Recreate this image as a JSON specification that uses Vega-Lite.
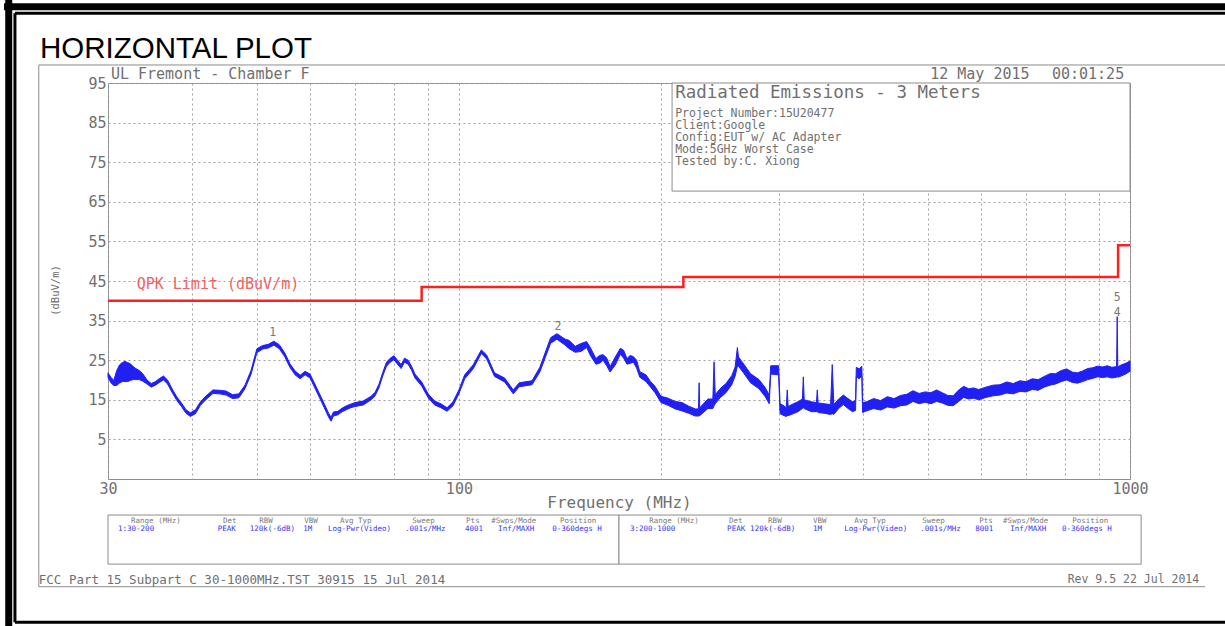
{
  "$schema": "https://vega.github.io/schema/vega-lite/v6.json",
  "width": 1022,
  "height": 396,
  "autosize": {"type": "none"},
  "padding": {"left": 108, "top": 83, "right": 95, "bottom": 147},
  "background": "white",
  "config": {"view": {"stroke": "#8c8c8c", "strokeWidth": 1}, "font": "DejaVu Sans Mono"},
  "encoding": {
    "x": {"field": "f", "type": "quantitative", "scale": {"type": "log", "domain": [30, 1000], "nice": false},
      "axis": {"values": [30, 40, 50, 60, 70, 80, 90, 100, 200, 300, 400, 500, 600, 700, 800, 900, 1000],
        "labelExpr": "(datum.value == 30 || datum.value == 100 || datum.value == 1000) ? format(datum.value, 'd') : ''",
        "labelFlush": false, "ticks": false, "domain": false, "grid": true, "gridDash": [2, 3], "gridColor": "#a0a0a0",
        "labelFont": "DejaVu Sans Mono", "labelFontSize": 15, "labelColor": "#707070", "labelPadding": 2,
        "title": "Frequency (MHz)", "titleFont": "DejaVu Sans Mono", "titleFontSize": 16, "titleFontWeight": "normal", "titleColor": "#707070", "titleY": 23, "titleBaseline": "middle"}},
    "y": {"field": "v", "type": "quantitative", "scale": {"domain": [-5, 95], "nice": false, "zero": false},
      "axis": {"values": [5, 15, 25, 35, 45, 55, 65, 75, 85, 95], "ticks": false, "domain": false, "grid": true, "gridDash": [2, 3], "gridColor": "#a0a0a0",
        "labelFont": "DejaVu Sans Mono", "labelFontSize": 15, "labelColor": "#707070", "labelPadding": 2,
        "title": "(dBuV/m)", "titleFont": "DejaVu Sans Mono", "titleFontSize": 10.5, "titleFontWeight": "normal", "titleColor": "#707070", "titleX": -53, "titleY": 207, "titleAlign": "center", "titleBaseline": "middle"}}
  },
  "layer": [
    {
      "data": {"values": [
        {"f": 21.0, "f2": 1500, "v": 114.27, "v2": 114.27},
        {"f": 21.34, "f2": 21.34, "v": 116, "v2": -50}
      ]},
      "mark": {"type": "rule", "color": "black", "strokeWidth": 7},
      "encoding": {"x2": {"field": "f2"}, "y2": {"field": "v2"}}
    },
    {
      "data": {"values": [
        {"f": 21.8, "f2": 1500, "v": 112.6, "v2": 112.6},
        {"f": 21.8, "f2": 21.8, "v": 112.6, "v2": -41.2},
        {"f": 21.8, "f2": 1500, "v": -41.2, "v2": -41.2}
      ]},
      "mark": {"type": "rule", "color": "black", "strokeWidth": 3},
      "encoding": {"x2": {"field": "f2"}, "y2": {"field": "v2"}}
    },
    {
      "data": {"values": [
        {"f": 23.66, "f2": 1500, "v": 99.55, "v2": 99.55},
        {"f": 23.66, "f2": 23.66, "v": 99.55, "v2": -32.2},
        {"f": 23.66, "f2": 1294, "v": -32.2, "v2": -32.2}
      ]},
      "mark": {"type": "rule", "color": "#8c8c8c", "strokeWidth": 1},
      "encoding": {"x2": {"field": "f2"}, "y2": {"field": "v2"}}
    },
    {
      "data": {"values": [
        {"f": 207.8, "f2": 1000, "v": 95, "v2": 67.7},
        {"f": 30, "f2": 173.2, "v": -14.1, "v2": -26.5},
        {"f": 173.2, "f2": 1039, "v": -14.1, "v2": -26.5}
      ]},
      "mark": {"type": "rect", "fill": "white", "stroke": "#8c8c8c", "strokeWidth": 1},
      "encoding": {"x2": {"field": "f2"}, "y2": {"field": "v2"}}
    },
    {
      "data": {"values": [
        {"f": 30, "v": 40}, {"f": 88, "v": 43.5}, {"f": 216, "v": 46}, {"f": 960, "v": 54}, {"f": 1000, "v": 54}
      ]},
      "mark": {"type": "line", "interpolate": "step-after", "color": "#ff1f1f", "strokeWidth": 2.5}
    },
    {
      "data": {"values": [
        {"f":30,"v":20.7,"v2":21.8},{"f":30.3,"v":19.3,"v2":20.7},{"f":30.6,"v":18.6,"v2":19.9},{"f":30.9,"v":18.6,"v2":22.3},
        {"f":31.2,"v":19.2,"v2":23.8},{"f":31.5,"v":19.6,"v2":24.4},{"f":31.8,"v":19.6,"v2":24.7},{"f":32.1,"v":19.6,"v2":24.4},
        {"f":32.4,"v":19.9,"v2":24.1},{"f":32.7,"v":20.1,"v2":23.4},{"f":33,"v":20.1,"v2":22.9},{"f":33.4,"v":20.1,"v2":22.4},
        {"f":33.8,"v":19.7,"v2":21.6},{"f":34.3,"v":19,"v2":20},{"f":34.8,"v":18.2,"v2":19.1},{"f":35.3,"v":18.7,"v2":19.6},
        {"f":35.8,"v":19.4,"v2":20.4},{"f":36.3,"v":20,"v2":21},{"f":36.8,"v":19,"v2":20},{"f":37.4,"v":16.8,"v2":17.7},
        {"f":38,"v":14.8,"v2":15.7},{"f":38.6,"v":13.3,"v2":14.2},{"f":39.2,"v":11.6,"v2":12.5},{"f":39.8,"v":10.8,"v2":11.7},
        {"f":40.5,"v":11.5,"v2":12.5},{"f":41.2,"v":13.6,"v2":14.5},{"f":42,"v":15.1,"v2":16},{"f":43,"v":16.6,"v2":17.5},
        {"f":44,"v":16.5,"v2":17.4},{"f":45,"v":16.2,"v2":17.2},{"f":46,"v":15.3,"v2":16.3},{"f":47,"v":15.5,"v2":16.5},
        {"f":48,"v":17.8,"v2":18.7},{"f":49,"v":21.4,"v2":22.4},{"f":50,"v":26.9,"v2":27.9},{"f":51,"v":27.8,"v2":28.7},
        {"f":52,"v":28.1,"v2":29},{"f":53,"v":28.8,"v2":29.8},{"f":54,"v":27.9,"v2":28.9},{"f":55,"v":25.9,"v2":26.9},
        {"f":56,"v":23.2,"v2":24.1},{"f":57,"v":21.3,"v2":22.3},{"f":58,"v":20.3,"v2":21.2},{"f":59,"v":21.3,"v2":22.2},
        {"f":60,"v":20.5,"v2":21.5},{"f":61,"v":18,"v2":19},{"f":62,"v":15.5,"v2":16.5},{"f":63,"v":13,"v2":14},
        {"f":64,"v":10.5,"v2":11.5},{"f":64.5,"v":9.6,"v2":10.6},{"f":65,"v":10.9,"v2":11.9},{"f":66,"v":11.2,"v2":12.1},
        {"f":67,"v":12,"v2":12.9},{"f":68,"v":12.5,"v2":13.5},{"f":69,"v":13,"v2":13.9},{"f":70,"v":13.3,"v2":14.3},
        {"f":72,"v":13.7,"v2":14.7},{"f":74,"v":15,"v2":15.9},{"f":75,"v":16,"v2":16.9},{"f":76,"v":18,"v2":18.9},
        {"f":77,"v":21,"v2":21.9},{"f":78,"v":23.5,"v2":24.5},{"f":79,"v":24.5,"v2":25.5},{"f":80,"v":25.1,"v2":26.1},
        {"f":81,"v":24,"v2":25},{"f":82,"v":22.9,"v2":23.9},{"f":83,"v":24.5,"v2":25.5},{"f":84,"v":24,"v2":25},
        {"f":85,"v":22.5,"v2":23.5},{"f":86,"v":20.5,"v2":21.5},{"f":88,"v":18.5,"v2":19.5},{"f":90,"v":15.5,"v2":16.5},
        {"f":92,"v":13.7,"v2":14.7},{"f":94,"v":13,"v2":14},{"f":96,"v":12.1,"v2":13},{"f":98,"v":13.5,"v2":14.5},
        {"f":100,"v":16.5,"v2":17.5},{"f":102,"v":20.3,"v2":21.3},{"f":105,"v":22.8,"v2":23.8},{"f":108,"v":26.7,"v2":27.6},
        {"f":110,"v":25.3,"v2":26.3},{"f":113,"v":20.9,"v2":21.8},{"f":117,"v":19.5,"v2":20.5},{"f":120.5,"v":16.5,"v2":17.5},
        {"f":123,"v":18.3,"v2":19.3},{"f":128.5,"v":18.8,"v2":19.8},{"f":132,"v":22,"v2":23.2},{"f":137,"v":29.3,"v2":30.7},
        {"f":140,"v":30.3,"v2":31.7},{"f":144,"v":28.8,"v2":30.3},{"f":146,"v":27.9,"v2":30},{"f":149,"v":27,"v2":28.5},
        {"f":152,"v":27.2,"v2":29.2},{"f":155,"v":28.2,"v2":29.7},{"f":157,"v":26.2,"v2":28.2},{"f":160,"v":24,"v2":25.4},
        {"f":162,"v":24.2,"v2":26.2},{"f":164,"v":25,"v2":26.4},{"f":166,"v":23.6,"v2":25.6},{"f":168,"v":22,"v2":23.4},
        {"f":171,"v":23.8,"v2":25.8},{"f":174,"v":26.5,"v2":28},{"f":176,"v":25.5,"v2":27.5},{"f":178,"v":24,"v2":25.4},
        {"f":180,"v":24.2,"v2":26.2},{"f":182,"v":24.5,"v2":25.9},{"f":184,"v":23,"v2":25},{"f":186,"v":20.7,"v2":22.1},
        {"f":190,"v":19.6,"v2":21.3},{"f":193,"v":18.2,"v2":19.6},{"f":196,"v":16.8,"v2":18.4},{"f":200,"v":14.3,"v2":15.9},
        {"f":205,"v":13.6,"v2":15.4},{"f":210,"v":12.7,"v2":14.6},{"f":215,"v":12.2,"v2":14.3},
        {"f":220,"v":11.6,"v2":13.4},{"f":225,"v":10.9,"v2":12.7},{"f":227.5,"v":10.9,"v2":12.7},{"f":228,"v":11,"v2":19.3},
        {"f":228.5,"v":11,"v2":13},{"f":235,"v":12.8,"v2":15.2},{"f":239,"v":12.8,"v2":15.2},{"f":240,"v":13.5,"v2":24.6},
        {"f":241,"v":14,"v2":16.3},{"f":245,"v":15.5,"v2":17.8},{"f":250,"v":16.8,"v2":19.1},{"f":255,"v":18.8,"v2":21.1},
        {"f":258,"v":21,"v2":23.3},{"f":260,"v":23.5,"v2":28.2},{"f":261,"v":23.5,"v2":25.8},{"f":265,"v":22,"v2":24.3},
        {"f":272,"v":19.3,"v2":21.6},{"f":280,"v":17.8,"v2":20.1},{"f":286,"v":15.8,"v2":18.1},{"f":290,"v":14,"v2":16.2},
        {"f":291.5,"v":21.5,"v2":23.6},{"f":299.5,"v":21.3,"v2":23.6},{"f":301,"v":11.5,"v2":14},{"f":305,"v":11,"v2":13.5},
        {"f":307.5,"v":10.8,"v2":13},{"f":308.5,"v":11,"v2":17.5},{"f":309.5,"v":11,"v2":13.3},{"f":315,"v":11.5,"v2":14},
        {"f":320,"v":12,"v2":14.5},{"f":325,"v":12.8,"v2":15.2},{"f":326,"v":13,"v2":20.8},{"f":327,"v":12.8,"v2":15},
        {"f":335,"v":12,"v2":14.5},{"f":341,"v":12,"v2":14.3},{"f":342,"v":12,"v2":17.5},{"f":343,"v":11.8,"v2":14.2},
        {"f":350,"v":11.6,"v2":14},{"f":358,"v":11.3,"v2":13.8},{"f":360,"v":11.5,"v2":23.9},{"f":362,"v":11.3,"v2":13.8},
        {"f":368,"v":12.8,"v2":15.2},{"f":374,"v":13.8,"v2":16.2},{"f":380,"v":12.8,"v2":15.3},{"f":386,"v":12,"v2":14.5},
        {"f":390,"v":12.3,"v2":14.8},{"f":391,"v":20.8,"v2":23.2},{"f":395,"v":20.3,"v2":22.8},{"f":398.5,"v":21,"v2":23.5},
        {"f":399.5,"v":11.8,"v2":14.3},{"f":405,"v":12.2,"v2":14.5},{"f":415,"v":12.8,"v2":15.3},{"f":425,"v":12.4,"v2":14.8},
        {"f":435,"v":13.2,"v2":15.8},{"f":445,"v":12.9,"v2":15.3},{"f":455,"v":13.5,"v2":16.1},{"f":465,"v":13.7,"v2":16.4},
        {"f":475,"v":14.6,"v2":17.3},{"f":485,"v":14,"v2":16.6},{"f":495,"v":14.4,"v2":17},{"f":505,"v":14,"v2":16.8},
        {"f":515,"v":14.6,"v2":17.5},{"f":525,"v":14.2,"v2":16.8},{"f":535,"v":13.6,"v2":16.1},{"f":545,"v":13.5,"v2":16},
        {"f":555,"v":14.5,"v2":17.4},{"f":565,"v":15.6,"v2":18.4},{"f":575,"v":15.2,"v2":17.8},{"f":585,"v":15.4,"v2":18},
        {"f":595,"v":15,"v2":17.6},{"f":610,"v":15.6,"v2":18.2},{"f":625,"v":16,"v2":18.7},{"f":640,"v":16.2,"v2":18.8},
        {"f":655,"v":16.7,"v2":19.5},{"f":670,"v":16.5,"v2":19.1},{"f":685,"v":17.1,"v2":19.8},{"f":700,"v":17,"v2":19.6},
        {"f":715,"v":17.6,"v2":20.3},{"f":730,"v":17.4,"v2":20.1},{"f":745,"v":18.2,"v2":20.9},{"f":760,"v":18.7,"v2":21.6},
        {"f":775,"v":19,"v2":21.6},{"f":790,"v":19.6,"v2":22.4},{"f":805,"v":20,"v2":22.8},{"f":820,"v":19.4,"v2":22},
        {"f":835,"v":19.2,"v2":21.8},{"f":850,"v":19.6,"v2":22.3},{"f":865,"v":20.1,"v2":22.9},{"f":880,"v":20.4,"v2":23.1},
        {"f":895,"v":20.8,"v2":23.5},{"f":910,"v":20.6,"v2":23.3},{"f":925,"v":20.8,"v2":23.6},{"f":940,"v":20.5,"v2":23.2},
        {"f":955,"v":20.7,"v2":23.4},{"f":957,"v":21,"v2":36},{"f":959,"v":20.7,"v2":23.3},{"f":970,"v":21,"v2":23.8},
        {"f":985,"v":21.5,"v2":24.2},{"f":1000,"v":22.2,"v2":24.8}
      ]},
      "mark": {"type": "area", "fill": "#2020f5", "stroke": "#2020f5", "strokeWidth": 1},
      "encoding": {"y2": {"field": "v2"}}
    },
    {
      "data": {"values": [{"f": 23.75, "v": 101.3, "t": "HORIZONTAL PLOT"}]},
      "mark": {"type": "text", "align": "left", "baseline": "alphabetic", "font": "Liberation Sans", "fontSize": 29.5, "fill": "black"},
      "encoding": {"text": {"field": "t"}}
    },
    {
      "data": {"values": [
        {"f": 30.3, "v": 97.3, "t": "UL Fremont - Chamber F"},
        {"f": 503.8, "v": 97.3, "t": "12 May 2015"},
        {"f": 765, "v": 97.3, "t": "00:01:25"}
      ]},
      "mark": {"type": "text", "align": "left", "baseline": "middle", "font": "DejaVu Sans Mono", "fontSize": 15, "fill": "#707070"},
      "encoding": {"text": {"field": "t"}}
    },
    {
      "data": {"values": [{"f": 210, "v": 92.5, "t": "Radiated Emissions - 3 Meters"}]},
      "mark": {"type": "text", "align": "left", "baseline": "middle", "font": "DejaVu Sans Mono", "fontSize": 17.5, "fill": "#707070"},
      "encoding": {"text": {"field": "t"}}
    },
    {
      "data": {"values": [
        {"f": 210, "v": 87.1, "t": "Project Number:15U20477"},
        {"f": 210, "v": 84.1, "t": "Client:Google"},
        {"f": 210, "v": 81.1, "t": "Config:EUT w/ AC Adapter"},
        {"f": 210, "v": 78.1, "t": "Mode:5GHz Worst Case"},
        {"f": 210, "v": 75.1, "t": "Tested by:C. Xiong"}
      ]},
      "mark": {"type": "text", "align": "left", "baseline": "middle", "font": "DejaVu Sans Mono", "fontSize": 11.5, "fill": "#707070"},
      "encoding": {"text": {"field": "t"}}
    },
    {
      "data": {"values": [{"f": 33.1, "v": 44.2, "t": "QPK Limit (dBuV/m)"}]},
      "mark": {"type": "text", "align": "left", "baseline": "middle", "font": "DejaVu Sans Mono", "fontSize": 15, "fill": "#ee6262"},
      "encoding": {"text": {"field": "t"}}
    },
    {
      "data": {"values": [
        {"f": 52.8, "v": 31.9, "t": "1"},
        {"f": 140.5, "v": 33.4, "t": "2"},
        {"f": 957, "v": 40.6, "t": "5"},
        {"f": 957, "v": 37.0, "t": "4"}
      ]},
      "mark": {"type": "text", "align": "center", "baseline": "middle", "font": "DejaVu Sans Mono", "fontSize": 11.5, "fill": "#787878"},
      "encoding": {"text": {"field": "t"}}
    },
    {
      "data": {"values": [
        {"f": 32.47, "v": -15.5, "t": "Range (MHz)"}, {"f": 44.5, "v": -15.5, "t": "Det"}, {"f": 50.4, "v": -15.5, "t": "RBW"},
        {"f": 58.8, "v": -15.5, "t": "VBW"}, {"f": 66.5, "v": -15.5, "t": "Avg Typ"}, {"f": 85.2, "v": -15.5, "t": "Sweep"},
        {"f": 102.5, "v": -15.5, "t": "Pts"}, {"f": 111.7, "v": -15.5, "t": "#Swps/Mode"}, {"f": 141.5, "v": -15.5, "t": "Position"},
        {"f": 192.1, "v": -15.5, "t": "Range (MHz)"}, {"f": 252.7, "v": -15.5, "t": "Det"}, {"f": 288.9, "v": -15.5, "t": "RBW"},
        {"f": 337.1, "v": -15.5, "t": "VBW"}, {"f": 388.1, "v": -15.5, "t": "Avg Typ"}, {"f": 490.1, "v": -15.5, "t": "Sweep"},
        {"f": 596.1, "v": -15.5, "t": "Pts"}, {"f": 647, "v": -15.5, "t": "#Swps/Mode"}, {"f": 820.1, "v": -15.5, "t": "Position"}
      ]},
      "mark": {"type": "text", "align": "left", "baseline": "middle", "font": "DejaVu Sans Mono", "fontSize": 7.5, "fill": "#7a7a7a"},
      "encoding": {"text": {"field": "t"}}
    },
    {
      "data": {"values": [
        {"f": 31.05, "v": -17.6, "t": "1:30-200"}, {"f": 43.7, "v": -17.6, "t": "PEAK"}, {"f": 48.8, "v": -17.6, "t": "120k(-6dB)"},
        {"f": 58.6, "v": -17.6, "t": "1M"}, {"f": 63.8, "v": -17.6, "t": "Log-Pwr(Video)"}, {"f": 83.1, "v": -17.6, "t": ".001s/MHz"},
        {"f": 102.1, "v": -17.6, "t": "4001"}, {"f": 114.4, "v": -17.6, "t": "Inf/MAXH"}, {"f": 137.7, "v": -17.6, "t": "0-360degs H"},
        {"f": 179.9, "v": -17.6, "t": "3:200-1000"}, {"f": 251.0, "v": -17.6, "t": "PEAK"}, {"f": 271.6, "v": -17.6, "t": "120k(-6dB)"},
        {"f": 337.1, "v": -17.6, "t": "1M"}, {"f": 375.0, "v": -17.6, "t": "Log-Pwr(Video)"}, {"f": 486.8, "v": -17.6, "t": ".001s/MHz"},
        {"f": 587.9, "v": -17.6, "t": "8001"}, {"f": 663, "v": -17.6, "t": "Inf/MAXH"}, {"f": 792, "v": -17.6, "t": "0-360degs H"}
      ]},
      "mark": {"type": "text", "align": "left", "baseline": "middle", "font": "DejaVu Sans Mono", "fontSize": 7.5, "fill": "#3535ff"},
      "encoding": {"text": {"field": "t"}}
    },
    {
      "data": {"values": [{"f": 23.66, "v": -30.5, "t": "FCC Part 15 Subpart C 30-1000MHz.TST 30915 15 Jul 2014"}]},
      "mark": {"type": "text", "align": "left", "baseline": "middle", "font": "DejaVu Sans Mono", "fontSize": 12.5, "fill": "#707070"},
      "encoding": {"text": {"field": "t"}}
    },
    {
      "data": {"values": [{"f": 1268, "v": -30.5, "t": "Rev 9.5 22 Jul 2014"}]},
      "mark": {"type": "text", "align": "right", "baseline": "middle", "font": "DejaVu Sans Mono", "fontSize": 11.5, "fill": "#707070"},
      "encoding": {"text": {"field": "t"}}
    }
  ]
}
